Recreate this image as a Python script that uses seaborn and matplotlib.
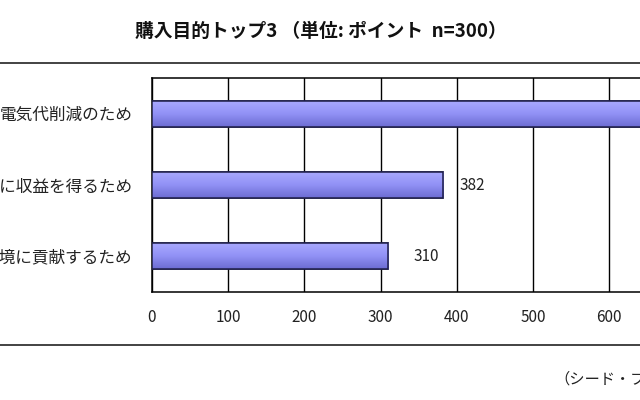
import matplotlib
matplotlib.use("Agg")
import matplotlib.pyplot as plt
import numpy as np
import pandas as pd
import seaborn as sns
from matplotlib.lines import Line2D
from matplotlib.colors import LinearSegmentedColormap

# data
purposes = ["電気代削減のため", "売電で新たに収益を得るため", "環境に貢献するため"]
points = [720, 382, 310]
label_offsets = [None, 12, 18]  # first bar's label lies outside the cropped picture
x_ticks = [0, 100, 200, 300, 400, 500, 600]

title = "購入目的トップ3 （単位: ポイント  n=300）"
source = "（シード・プランニング調べ）"

sns.set_style("white")
plt.rcParams["font.family"] = ["Noto Sans CJK JP", "DejaVu Sans"]

df = pd.DataFrame({"purpose": purposes, "points": points})

fig = plt.figure(figsize=(6.4, 4.0), dpi=100)
ax = fig.add_axes([0.2375, 0.27, 0.9525, 0.535])

sns.barplot(data=df, x="points", y="purpose", orient="h", width=0.365,
            color="#8c8cf2", edgecolor="#1e1e48", linewidth=1.1, ax=ax, zorder=3)

# Excel-like vertical gradient inside every bar
grad = LinearSegmentedColormap.from_list("bar", ["#aaaaff", "#9292f6", "#6c6cd2"])
for patch in ax.patches:
    x0, y0 = patch.get_x(), patch.get_y()
    w, h = patch.get_width(), patch.get_height()
    img = ax.imshow(np.linspace(0, 1, 64).reshape(-1, 1), cmap=grad, aspect="auto",
                    extent=[x0, x0 + w, y0 + h, y0], origin="upper", zorder=3.5)
    img.set_clip_path(patch)
    edge = plt.Rectangle((x0, y0), w, h, fill=False, edgecolor="#1e1e48",
                         linewidth=1.1, zorder=4)
    ax.add_patch(edge)

for i, (val, off) in enumerate(zip(points, label_offsets)):
    if off is None:
        continue
    ax.annotate(str(val), (val, i), xytext=(off, 0), textcoords="offset points",
                ha="left", va="center", fontsize=11, color="#222222")

ax.set_xlim(0, 800)
ax.set_ylim(2.5, -0.5)
ax.set_xticks(x_ticks)
ax.set_xlabel("")
ax.set_ylabel("")
ax.grid(axis="x", color="black", linewidth=1.0, zorder=0)
ax.set_axisbelow(True)
ax.tick_params(axis="x", length=0, pad=12, labelsize=11, labelcolor="#222222")
ax.tick_params(axis="y", which="major", length=0, pad=14, labelsize=12,
               labelcolor="#222222")
ax.set_yticks([0.5, 1.5], minor=True)
ax.tick_params(axis="y", which="minor", direction="in", length=3.5, width=1,
               color="black")
for side in ["left", "bottom", "top"]:
    ax.spines[side].set_color("black")
    ax.spines[side].set_linewidth(1.1)
ax.spines["right"].set_visible(False)

fig.text(0.502, 0.9225, title, ha="center", va="center", fontsize=13.5,
         fontweight="bold", color="#111111")
fig.text(0.866, 0.0525, source, ha="left", va="center", fontsize=11,
         color="#222222")

for y in [0.8425, 0.1375]:
    fig.add_artist(Line2D([0, 1], [y, y], transform=fig.transFigure,
                          color="#222222", linewidth=1.2))

fig.savefig("out.png", dpi=100)
